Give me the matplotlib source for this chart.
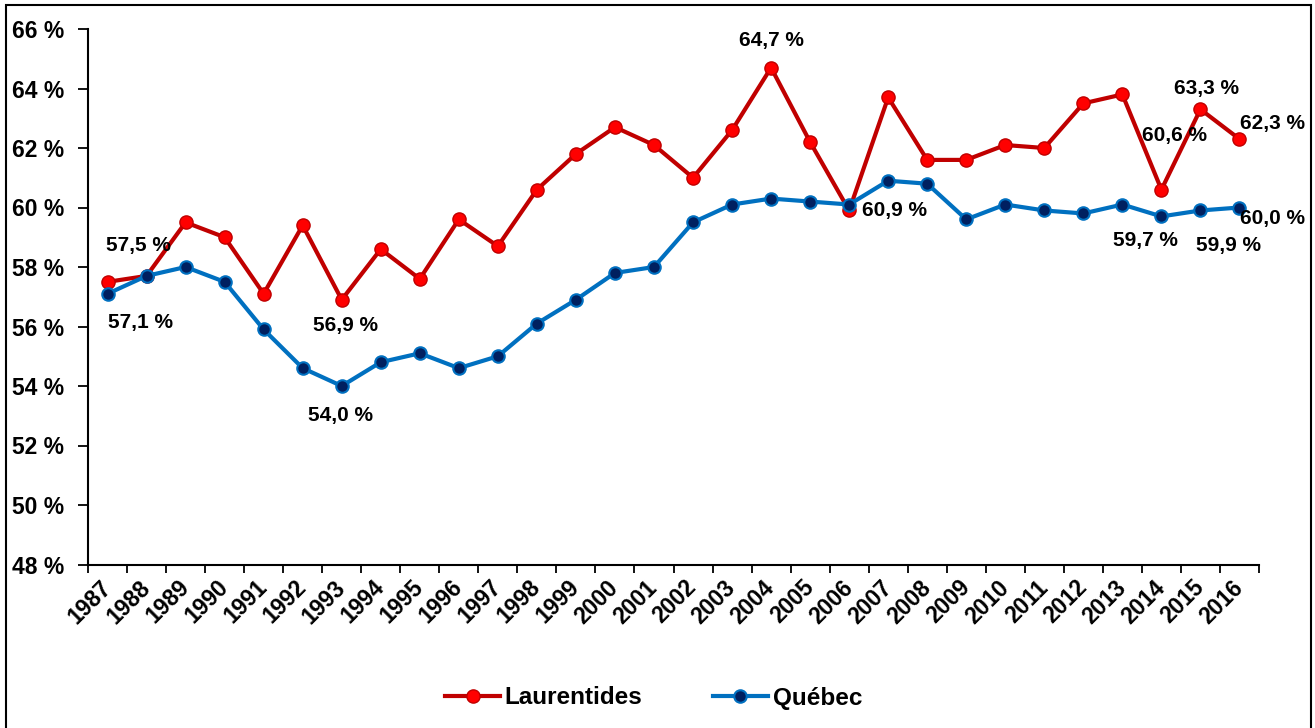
import matplotlib.pyplot as plt
import matplotlib.patches as patches
from matplotlib.ticker import FixedLocator, FuncFormatter

plt.rcParams['font.family'] = ['Liberation Sans', 'DejaVu Sans']
plt.rcParams['font.weight'] = 'bold'

years = list(range(1987, 2017))
laurentides = [57.5, 57.7, 59.5, 59.0, 57.1, 59.4, 56.9, 58.6, 57.6, 59.6,
               58.7, 60.6, 61.8, 62.7, 62.1, 61.0, 62.6, 64.7, 62.2, 59.9,
               63.7, 61.6, 61.6, 62.1, 62.0, 63.5, 63.8, 60.6, 63.3, 62.3]
quebec = [57.1, 57.7, 58.0, 57.5, 55.9, 54.6, 54.0, 54.8, 55.1, 54.6,
          55.0, 56.1, 56.9, 57.8, 58.0, 59.5, 60.1, 60.3, 60.2, 60.1,
          60.9, 60.8, 59.6, 60.1, 59.9, 59.8, 60.1, 59.7, 59.9, 60.0]

# (series, year, text, dx px, dy px)
labels = [
    ("L", 1987, "57,5 %", 31, 36),
    ("Q", 1987, "57,1 %", 33, -29),
    ("L", 1993, "56,9 %", 4, -26),
    ("Q", 1993, "54,0 %", -1, -29),
    ("L", 2004, "64,7 %", 0, 27),
    ("L", 2006, "60,9 %", 45, 0),
    ("L", 2015, "63,3 %", 6, 21),
    ("L", 2016, "62,3 %", 33, 16),
    ("L", 2014, "60,6 %", 13, 54),
    ("Q", 2014, "59,7 %", -16, -24),
    ("Q", 2015, "59,9 %", 28, -35),
    ("Q", 2016, "60,0 %", 33, -11),
]

fig = plt.figure(figsize=(13.15, 7.28), dpi=100)
ax = fig.add_axes([88 / 1315, 1 - 564.5 / 728, (1259 - 88) / 1315, (564.5 - 29) / 728])

x = list(range(len(years)))
ax.plot(x, laurentides, color='#C00000', lw=3, marker='o', ms=9.5,
        mfc='#FF0000', mec='#C00000', mew=1, label='Laurentides', zorder=3)
ax.plot(x, quebec, color='#0070C0', lw=3, marker='o', ms=9,
        mfc='#002060', mec='#0070C0', mew=1.5, label='Québec', zorder=4)

for series, yr, txt, dx, dy in labels:
    i = years.index(yr)
    val = laurentides[i] if series == "L" else quebec[i]
    ax.annotate(txt, xy=(i, val), xytext=(dx, dy), textcoords='offset pixels',
                ha='center', va='center', fontsize=15, fontweight='bold', zorder=5)

ax.set_xlim(-0.5, len(years) - 0.5)
ax.set_ylim(48, 66)
ax.yaxis.set_major_locator(FixedLocator(range(48, 67, 2)))
ax.yaxis.set_major_formatter(FuncFormatter(lambda v, p: f"{int(v)} %"))
ax.tick_params(axis='y', labelsize=16.5, length=7, width=1.3, pad=10, direction='out')

ax.set_xticks(x)
ax.set_xticklabels([str(y) for y in years], rotation=45, ha='right',
                   va='center', rotation_mode='anchor', fontsize=16.5)
ax.xaxis.set_minor_locator(FixedLocator([i - 0.5 for i in range(len(years) + 1)]))
ax.tick_params(axis='x', which='major', length=0, pad=14)
ax.tick_params(axis='x', which='minor', length=6, width=1.3, direction='out')

for s in ['top', 'right']:
    ax.spines[s].set_visible(False)
for s in ['left', 'bottom']:
    ax.spines[s].set_linewidth(1.5)

fig.legend(loc='center', bbox_to_anchor=(0.497, 1 - 698 / 728), ncol=2,
           frameon=False, fontsize=17.5, handlelength=2.25, handletextpad=0.2,
           columnspacing=2.9)

border = patches.Rectangle((6 / 1315, -0.01), 1305 / 1315, 1 - 5 / 728 + 0.01,
                           transform=fig.transFigure, fill=False,
                           edgecolor='black', lw=1.5)
fig.patches.append(border)

fig.savefig('out.png', dpi=100)
